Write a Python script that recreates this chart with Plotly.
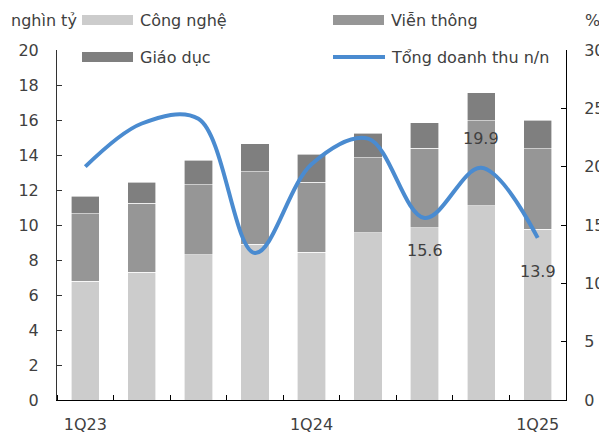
import plotly.graph_objects as go

quarters = ["1Q23", "2Q23", "3Q23", "4Q23", "1Q24", "2Q24", "3Q24", "4Q24", "1Q25"]
cong_nghe = [6.8, 7.3, 8.3, 8.9, 8.45, 9.55, 9.85, 11.1, 9.75]
vien_thong = [3.85, 3.95, 4.0, 4.15, 4.0, 4.3, 4.55, 4.85, 4.6]
giao_duc = [1.0, 1.2, 1.4, 1.6, 1.6, 1.4, 1.45, 1.6, 1.65]
tong_dt_yoy = [20.0, 23.7, 24.1, 12.6, 20.2, 22.4, 15.6, 19.9, 13.9]
label_idx = [6, 7, 8]
label_shift = [-32, 29, -34]
shown_ticks = ["1Q23", "1Q24", "1Q25"]

C_CN = "#cccccc"
C_VT = "#969696"
C_GD = "#7f7f7f"
C_LINE = "#4a8bd0"
TXT = "#404040"
FONT = "DejaVu Sans"

xs = list(range(len(quarters)))

fig = go.Figure()
for name, vals, col in [("Công nghệ", cong_nghe, C_CN), ("Viễn thông", vien_thong, C_VT), ("Giáo dục", giao_duc, C_GD)]:
    fig.add_trace(go.Bar(x=xs, y=vals, name=name, marker=dict(color=col, line=dict(color="white", width=0.6)),
                         showlegend=False))
fig.add_trace(go.Scatter(x=xs, y=tong_dt_yoy, name="Tổng doanh thu n/n", mode="lines",
                         line=dict(color=C_LINE, width=4, shape="spline", smoothing=1.0),
                         yaxis="y2", showlegend=False))

for i, s in zip(label_idx, label_shift):
    fig.add_annotation(x=xs[i], y=tong_dt_yoy[i], yref="y2", text=f"{tong_dt_yoy[i]:.1f}", showarrow=False,
                       yshift=s, font=dict(family=FONT, size=16, color=TXT))

L, R, T, B = 57, 566, 50, 400
W, H = R - L, B - T
def px(x): return (x - L) / W
def py(y): return (B - y) / H

# manual legend
legend_items = [
    ("Công nghệ", C_CN, 82, 20, "rect"),
    ("Viễn thông", C_VT, 333, 20, "rect"),
    ("Giáo dục", C_GD, 82, 57, "rect"),
    ("Tổng doanh thu n/n", C_LINE, 333, 57, "line"),
]
for text, col, x0, yc, kind in legend_items:
    if kind == "rect":
        fig.add_shape(type="rect", xref="paper", yref="paper", x0=px(x0), x1=px(x0 + 51),
                      y0=py(yc + 5), y1=py(yc - 5), fillcolor=col, line=dict(width=0))
    else:
        fig.add_shape(type="line", xref="paper", yref="paper", x0=px(x0), x1=px(x0 + 52),
                      y0=py(yc), y1=py(yc), line=dict(color=col, width=4))
    fig.add_annotation(xref="paper", yref="paper", x=px(x0 + 56), y=py(yc), text=text, showarrow=False,
                       xanchor="left", yanchor="middle", font=dict(family=FONT, size=16, color=TXT))

fig.add_annotation(xref="paper", yref="paper", x=px(9), y=py(20), text="nghìn tỷ", showarrow=False,
                   xanchor="left", yanchor="middle", font=dict(family=FONT, size=16, color=TXT))
fig.add_annotation(xref="paper", yref="paper", x=px(583), y=py(20), text="%", showarrow=False,
                   xanchor="left", yanchor="middle", font=dict(family=FONT, size=16, color=TXT))

fig.update_layout(
    width=599, height=437,
    margin=dict(l=L, r=599 - R, t=T, b=437 - B),
    barmode="stack", bargap=0.5,
    plot_bgcolor="white", paper_bgcolor="white",
    font=dict(family=FONT, size=16, color=TXT),
    xaxis=dict(range=[-0.5, len(quarters) - 0.5], tickvals=[quarters.index(q) for q in shown_ticks],
               ticktext=shown_ticks, ticks="", showgrid=False, zeroline=False, automargin=False,
               showline=True, linecolor="#000000", linewidth=1,
               minor=dict(ticks="inside", tick0=0.5, dtick=1, ticklen=5, tickcolor="#000000", showgrid=False),
               ticklabelstandoff=10),
    yaxis=dict(range=[0, 20], dtick=2, ticks="inside", ticklen=5, tickcolor="#333333", showgrid=False,
               automargin=False,
               zeroline=False, showline=True, linecolor="#333333", linewidth=1, ticklabelstandoff=14),
    yaxis2=dict(range=[0, 30], dtick=5, overlaying="y", side="right", ticks="inside", ticklen=5,
                tickcolor="#000000", showgrid=False, zeroline=False, showline=True, linecolor="#000000",
                automargin=False, linewidth=1, ticklabelstandoff=14),
)

fig.write_html("out.html")
